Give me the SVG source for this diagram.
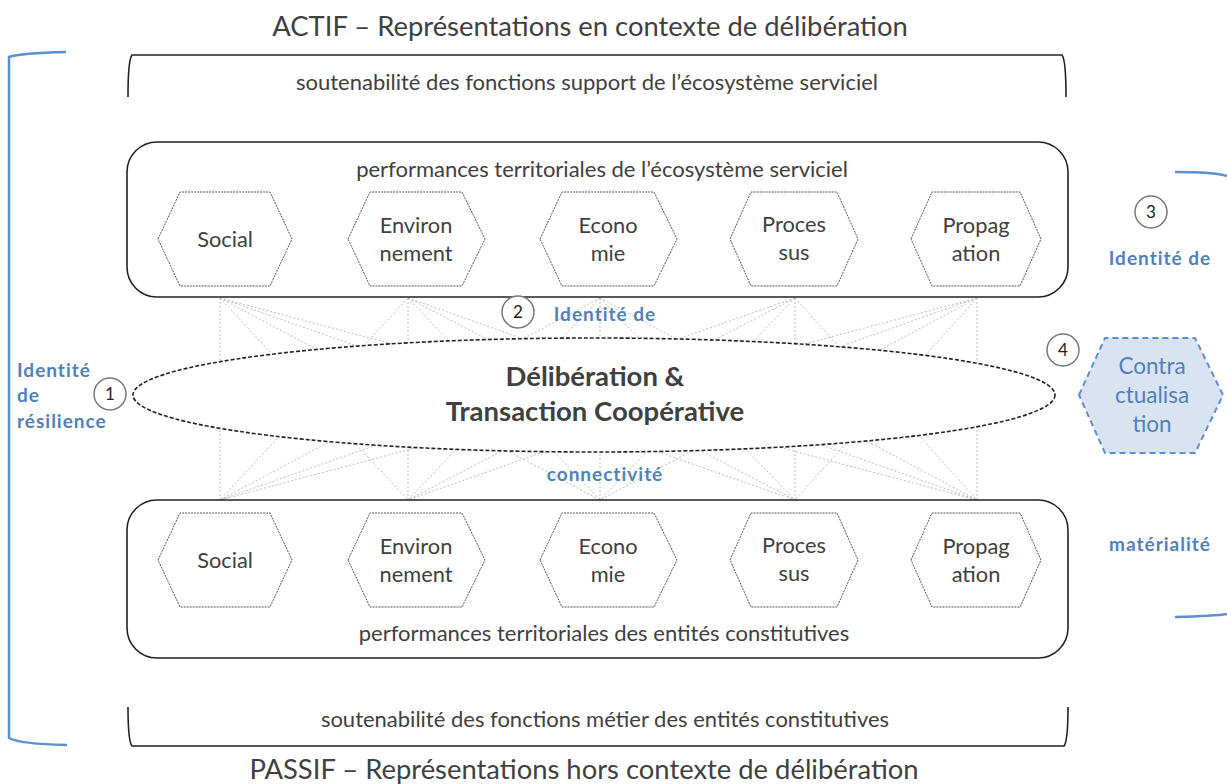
<svg xmlns="http://www.w3.org/2000/svg" width="1227" height="784" viewBox="0 0 1227 784">
<style>
text{font-family:Lato,"Liberation Sans",sans-serif;fill:#404040}
.t{font-size:27.4px}
.s{font-size:22px}
.h{font-size:21.8px;text-anchor:middle}
.b{font-size:27.5px;font-weight:bold;text-anchor:middle}
.bl{font-size:19px;font-weight:bold;fill:#4f81bd;letter-spacing:1px}
.n{font-size:17px;text-anchor:middle;fill:#222}
.hex{fill:#fff;stroke:#555;stroke-width:1;stroke-dasharray:2 1}
.box{fill:#fff;stroke:#222;stroke-width:1.6}
.br{fill:none;stroke:#222;stroke-width:1.6}
.bb{fill:none;stroke:#5b8fd4;stroke-width:2.5}
.c{fill:#fff;stroke:#777;stroke-width:1.5}
.cn line{stroke:#bdbdbd;stroke-width:1;stroke-dasharray:2 2}
</style>
<rect width="1227" height="784" fill="#fff"/>
<text class="t" x="590" y="36" text-anchor="middle">ACTIF – Représentations en contexte de délibération</text>
<text class="t" x="584" y="779" text-anchor="middle">PASSIF – Représentations hors contexte de délibération</text>

<g id="bracket-left"><path class="bb" d="M66,52 Q20,53 9,57 L9,738 Q20,744 67,745"/></g>
<g id="bracket-right"><path class="bb" d="M1175,172 Q1215,172 1227,176 M1175,617 Q1215,616 1227,614"/></g>

<g id="support">
<path class="br" d="M128,97 Q128,60 132,55 L1062,55 Q1066,60 1066,97"/>
<text class="s" x="587" y="90" text-anchor="middle">soutenabilité des fonctions support de l’écosystème serviciel</text>
</g>
<g id="metier">
<path class="br" d="M128,707 Q128,741 132,746 L1064,746 Q1068,741 1068,707"/>
<text class="s" x="605" y="727" text-anchor="middle">soutenabilité des fonctions métier des entités constitutives</text>
</g>

<g id="connectors" class="cn">
<line x1="220" y1="298" x2="220" y2="500"/><line x1="220" y1="298" x2="408" y2="500"/><line x1="220" y1="298" x2="600" y2="500"/><line x1="220" y1="298" x2="795" y2="500"/><line x1="220" y1="298" x2="977" y2="500"/>
<line x1="408" y1="298" x2="220" y2="500"/><line x1="408" y1="298" x2="408" y2="500"/><line x1="408" y1="298" x2="600" y2="500"/><line x1="408" y1="298" x2="795" y2="500"/><line x1="408" y1="298" x2="977" y2="500"/>
<line x1="600" y1="298" x2="220" y2="500"/><line x1="600" y1="298" x2="408" y2="500"/><line x1="600" y1="298" x2="600" y2="500"/><line x1="600" y1="298" x2="795" y2="500"/><line x1="600" y1="298" x2="977" y2="500"/>
<line x1="795" y1="298" x2="220" y2="500"/><line x1="795" y1="298" x2="408" y2="500"/><line x1="795" y1="298" x2="600" y2="500"/><line x1="795" y1="298" x2="795" y2="500"/><line x1="795" y1="298" x2="977" y2="500"/>
<line x1="977" y1="298" x2="220" y2="500"/><line x1="977" y1="298" x2="408" y2="500"/><line x1="977" y1="298" x2="600" y2="500"/><line x1="977" y1="298" x2="795" y2="500"/><line x1="977" y1="298" x2="977" y2="500"/>
</g>

<g id="top-box">
<rect class="box" x="127" y="142" width="941" height="155" rx="30"/>
<text class="s" x="602" y="177" text-anchor="middle">performances territoriales de l’écosystème serviciel</text>
</g>
<g id="top-social"><path class="hex" d="M158,239 L180,192 L270,192 L292,239 L270,286 L180,286 Z"/><text class="h" x="225" y="247">Social</text></g>
<g id="top-env"><path class="hex" d="M348,239 L370,192 L462,192 L485,239 L462,286 L370,286 Z"/><text class="h" x="416" y="233">Environ</text><text class="h" x="416" y="261">nement</text></g>
<g id="top-eco"><path class="hex" d="M540,239 L562,192 L654,192 L677,239 L654,286 L562,286 Z"/><text class="h" x="608" y="233">Econo</text><text class="h" x="608" y="261">mie</text></g>
<g id="top-proc"><path class="hex" d="M730,239 L751,192 L837,192 L858,239 L837,286 L751,286 Z"/><text class="h" x="794" y="232">Proces</text><text class="h" x="794" y="260">sus</text></g>
<g id="top-prop"><path class="hex" d="M911,239 L932,192 L1020,192 L1041,239 L1020,286 L932,286 Z"/><text class="h" x="976" y="233">Propag</text><text class="h" x="976" y="261">ation</text></g>

<g id="bottom-box">
<rect class="box" x="127" y="500" width="941" height="158" rx="30"/>
<text class="s" x="604" y="641" text-anchor="middle">performances territoriales des entités constitutives</text>
</g>
<g id="bot-social"><path class="hex" d="M158,560 L180,513 L270,513 L292,560 L270,607 L180,607 Z"/><text class="h" x="225" y="568">Social</text></g>
<g id="bot-env"><path class="hex" d="M348,560 L370,513 L462,513 L485,560 L462,607 L370,607 Z"/><text class="h" x="416" y="554">Environ</text><text class="h" x="416" y="582">nement</text></g>
<g id="bot-eco"><path class="hex" d="M540,560 L562,513 L654,513 L677,560 L654,607 L562,607 Z"/><text class="h" x="608" y="554">Econo</text><text class="h" x="608" y="582">mie</text></g>
<g id="bot-proc"><path class="hex" d="M730,560 L751,513 L837,513 L858,560 L837,607 L751,607 Z"/><text class="h" x="794" y="553">Proces</text><text class="h" x="794" y="581">sus</text></g>
<g id="bot-prop"><path class="hex" d="M911,560 L932,513 L1020,513 L1041,560 L1020,607 L932,607 Z"/><text class="h" x="976" y="554">Propag</text><text class="h" x="976" y="582">ation</text></g>

<g id="deliberation">
<ellipse cx="594" cy="395" rx="461" ry="57" fill="#fff" stroke="#222" stroke-width="1.6" stroke-dasharray="4 2"/>
<text class="b" x="595" y="386">Délibération &amp;</text>
<text class="b" x="595" y="421">Transaction Coopérative</text>
</g>

<g id="label-1"><circle class="c" cx="110" cy="394" r="16"/><text class="n" x="110" y="400">1</text>
<text class="bl" x="17" y="377">Identité</text><text class="bl" x="17" y="402">de</text><text class="bl" x="17" y="428">résilience</text></g>
<g id="label-2"><circle class="c" cx="518" cy="312" r="16"/><text class="n" x="518" y="318">2</text>
<text class="bl" x="605" y="321" text-anchor="middle">Identité de</text>
<text class="bl" x="605" y="481" text-anchor="middle">connectivité</text></g>
<g id="label-3"><circle class="c" cx="1151" cy="212" r="16"/><text class="n" x="1151" y="218">3</text>
<text class="bl" x="1160" y="265" text-anchor="middle">Identité de</text>
<text class="bl" x="1160" y="551" text-anchor="middle">matérialité</text></g>
<g id="label-4"><circle class="c" cx="1063" cy="350" r="16"/><text class="n" x="1063" y="356">4</text></g>

<g id="contractualisation">
<path d="M1079,395 L1105,338 L1195,338 L1223,395 L1195,453 L1105,453 Z" fill="#dae3f1" stroke="#5b8fd4" stroke-width="2" stroke-dasharray="6 4"/>
<text class="h" x="1152" y="374" style="fill:#4f81bd;font-size:22.5px">Contra</text>
<text class="h" x="1152" y="403" style="fill:#4f81bd;font-size:22.5px">ctualisa</text>
<text class="h" x="1152" y="432" style="fill:#4f81bd;font-size:22.5px">tion</text>
</g>
</svg>
